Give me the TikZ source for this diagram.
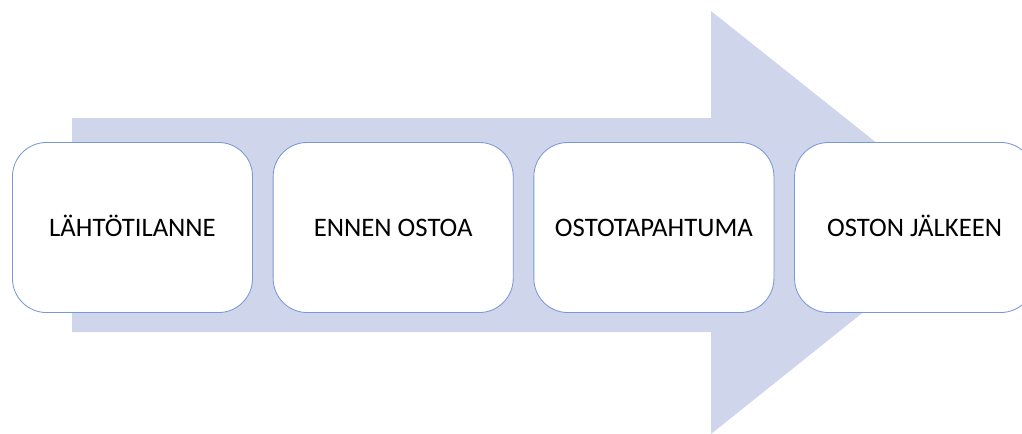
\documentclass[tikz,border=0pt]{standalone}
\usepackage{fontspec}
\setmainfont{Carlito}
\usepackage{tikz}
\usetikzlibrary{positioning}
\definecolor{arrowfill}{RGB}{207,213,234}
\definecolor{boxline}{RGB}{120,152,214}

\begin{document}
\begin{tikzpicture}[
      x=0.025cm, y=-0.025cm,
      every node/.style={font=\fontsize{19}{22}\selectfont},
      phase/.style={draw=boxline, fill=white, rounded corners=0.85cm, line width=0.6pt, minimum width=6.0cm, minimum height=4.25cm, inner sep=2pt, align=center, text height=12.2pt, text depth=0pt},
      bigarrow/.style={fill=arrowfill, draw=none}
    ]
      \useasboundingbox (0,0) rectangle (1022,434);
      \clip (0,0) rectangle (1022,434);

      % background arrow
      \fill[bigarrow] (72,118) -- (711,118) -- (711,11) -- (976,222)
        -- (711,434) -- (711,332) -- (72,332) -- cycle;

      % phases
      \foreach \name [count=\j from 0] in {LÄHTÖTILANNE, ENNEN OSTOA, OSTOTAPAHTUMA, OSTON JÄLKEEN} {
        \pgfmathsetmacro\xcoord{132.5 + \j*260.7}
        \node[phase] (p\j) at (\xcoord, 227.5) {\name};
      }
    \end{tikzpicture}
\end{document}
